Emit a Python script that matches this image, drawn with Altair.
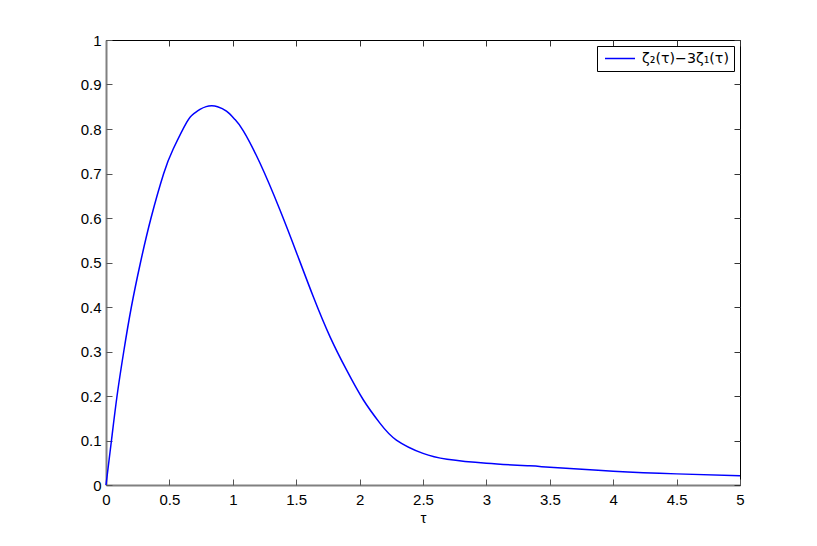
import altair as alt
import pandas as pd

# Curve values
tau = [0, 0.043, 0.087, 0.14, 0.2, 0.272, 0.355, 0.455, 0.53, 0.636, 0.69, 0.741,
       0.79, 0.833, 0.88, 0.95, 1.015, 1.083, 1.215, 1.372, 1.504, 1.635, 1.767,
       1.898, 2.03, 2.16, 2.29, 2.5, 2.69, 3.0, 3.34, 3.5, 4.0, 4.5, 5.0]
value = [0, 0.1, 0.2, 0.3, 0.4, 0.5, 0.6, 0.7, 0.755, 0.815, 0.834, 0.844,
         0.8503, 0.852, 0.850, 0.840, 0.822, 0.796, 0.723, 0.618, 0.521, 0.423, 0.333,
         0.258, 0.191, 0.139, 0.101, 0.071, 0.058, 0.049, 0.043, 0.040, 0.031, 0.025, 0.021]
series_name = "ζ₂(τ)−3ζ₁(τ)"

x_ticks = [0, 0.5, 1, 1.5, 2, 2.5, 3, 3.5, 4, 4.5, 5]
y_ticks = [0, 0.1, 0.2, 0.3, 0.4, 0.5, 0.6, 0.7, 0.8, 0.9, 1]

df = pd.DataFrame({"tau": tau, "value": value, "series": [series_name] * len(tau)})

W, H = 634, 445
FONT = "Liberation Sans"

xscale = alt.Scale(domain=[0, 5], nice=False, zero=False)
yscale = alt.Scale(domain=[0, 1], nice=False, zero=False)

base = alt.Chart(df)

line = base.mark_line(strokeWidth=1.5, interpolate="natural").encode(
    x=alt.X("tau:Q", scale=xscale,
            axis=alt.Axis(orient="bottom", values=x_ticks, format="~g", ticks=False,
                          title="τ", titleFontSize=15, titleFont=FONT, titleFontWeight="normal",
                          titlePadding=3, labelPadding=7, labelFontSize=15, labelFont=FONT,
                          labelColor="black", titleColor="black", grid=False,
                          domainColor="#808080", domainWidth=2, labelFlush=False)),
    y=alt.Y("value:Q", scale=yscale,
            axis=alt.Axis(orient="left", values=y_ticks, format="~g", ticks=False,
                          title=None, labelPadding=5, labelFontSize=15, labelFont=FONT,
                          labelColor="black", grid=False, domainColor="#808080",
                          domainWidth=2, labelFlush=False)),
    color=alt.Color("series:N", scale=alt.Scale(range=["#0000ff"]),
                    legend=alt.Legend(title=None, orient="none", legendX=491, legendY=6,
                                      symbolType="stroke", symbolSize=900,
                                      symbolStrokeWidth=1.5, symbolOffset=2,
                                      labelFontSize=14.2, labelFont="DejaVu Sans",
                                      labelColor="black",
                                      labelOffset=6, padding=5, clipHeight=15,
                                      strokeColor="black", fillColor="white",
                                      cornerRadius=0)),
)

# inward ticks: bottom and left edges
ticks_a = base.mark_line(opacity=0).encode(
    x=alt.X("tau:Q", scale=xscale,
            axis=alt.Axis(orient="top", offset=-H, values=x_ticks, labels=False,
                          domain=False, tickSize=6, tickColor="#555", title=None, grid=False)),
    y=alt.Y("value:Q", scale=yscale,
            axis=alt.Axis(orient="right", offset=-W, values=y_ticks, labels=False,
                          domain=False, tickSize=6, tickColor="#555", title=None, grid=False)),
)

# inward ticks: top and right edges
ticks_b = base.mark_line(opacity=0).encode(
    x=alt.X("tau:Q", scale=xscale,
            axis=alt.Axis(orient="bottom", offset=-H, values=x_ticks, labels=False,
                          domain=False, tickSize=6, tickColor="#333", title=None, grid=False)),
    y=alt.Y("value:Q", scale=yscale,
            axis=alt.Axis(orient="left", offset=-W, values=y_ticks, labels=False,
                          domain=False, tickSize=6, tickColor="#333", title=None, grid=False)),
)

chart = alt.layer(line, ticks_a, ticks_b).resolve_axis(
    x="independent", y="independent"
).properties(
    width=W, height=H,
    autosize=alt.AutoSizeParams(type="none"),
    padding={"left": 98, "top": 32, "right": 60, "bottom": 40},
).configure_view(
    stroke="black", strokeWidth=1
)

chart.save("out.html", embed_options={"renderer": "svg", "actions": False})
